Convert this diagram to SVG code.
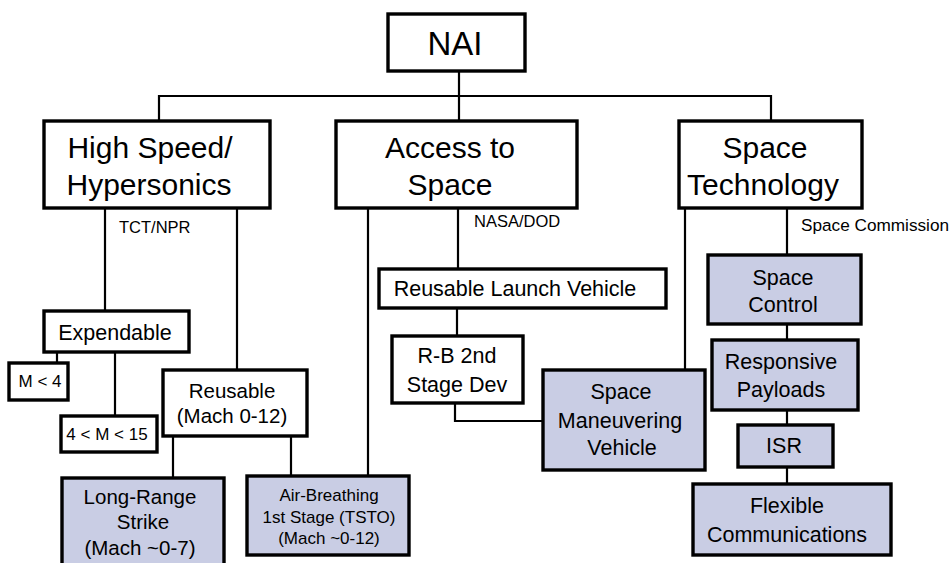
<svg xmlns="http://www.w3.org/2000/svg" width="951" height="563" viewBox="0 0 951 563">
<style>
.box{fill:#fff;stroke:#000;stroke-width:3.4}
.blue{fill:#c9cde4;stroke:#000;stroke-width:3.4}
.c{fill:none;stroke:#000;stroke-width:2.2}
text{font-family:"Liberation Sans",Arial,sans-serif;fill:#000;text-anchor:middle}
.big{font-size:30px}
.mid{font-size:21.5px}
.sm{font-size:20.5px}
.lab{font-size:16.5px;text-anchor:start}
.xs{font-size:17px}
</style>
<rect width="951" height="563" fill="#fff"/>
<g id="connectors">
<path class="c" d="M459,71V120M159,120V96H771V120"/>
<path class="c" d="M105,208V310M237,208V369M57,352V362M115,352V415M173,436V477M291,436V475"/>
<path class="c" d="M368,208V475M458,208V268M457,308V335M455,403V421H542"/>
<path class="c" d="M685,208V369M787,208V254M787,324V339M787,410V424M787,467V483"/>
</g>
<g id="nai"><rect class="box" x="388" y="14" width="137" height="57"/><text x="455" y="55" style="font-size:33px">NAI</text></g>
<g id="highspeed"><rect class="box" x="44" y="121" width="226" height="87"/><text class="big" x="150" y="158">High Speed/</text><text class="big" x="149" y="195">Hypersonics</text></g>
<g id="access"><rect class="box" x="336" y="121" width="241" height="87"/><text class="big" x="450" y="158">Access to</text><text class="big" x="450" y="195">Space</text></g>
<g id="spacetech"><rect class="box" x="679" y="121" width="183" height="87"/><text class="big" x="765" y="158">Space</text><text class="big" x="763" y="195">Technology</text></g>
<g id="labels"><text class="lab" x="119" y="233">TCT/NPR</text><text class="lab" x="474" y="227">NASA/DOD</text><text class="lab" x="801" y="231" style="font-size:17.2px">Space Commission</text></g>
<g id="expendable"><rect class="box" x="44" y="311" width="145" height="41"/><text class="mid" x="115" y="340">Expendable</text></g>
<g id="m4"><rect class="box" x="9" y="363" width="59" height="37"/><text class="xs" x="40" y="387">M &lt; 4</text></g>
<g id="m415"><rect class="box" x="61" y="416" width="96" height="36"/><text class="xs" x="107" y="440">4 &lt; M &lt; 15</text></g>
<g id="reusable"><rect class="box" x="163" y="370" width="144" height="66"/><text class="sm" x="232" y="398">Reusable</text><text class="sm" x="232" y="423">(Mach 0-12)</text></g>
<g id="lrs"><rect class="blue" x="62" y="478" width="162" height="100"/><text class="sm" x="140" y="504">Long-Range</text><text class="sm" x="143" y="529">Strike</text><text class="sm" x="140" y="555">(Mach ~0-7)</text></g>
<g id="airbreathing"><rect class="blue" x="247" y="476" width="162" height="79"/><text class="xs" x="329" y="501">Air-Breathing</text><text class="xs" x="329" y="523">1st Stage (TSTO)</text><text class="xs" x="329" y="544">(Mach ~0-12)</text></g>
<g id="rlv"><rect class="box" x="379" y="269" width="287" height="39"/><text class="mid" x="515" y="296">Reusable Launch Vehicle</text></g>
<g id="rb"><rect class="box" x="392" y="336" width="131" height="67"/><text class="mid" x="457" y="363">R-B 2nd</text><text class="mid" x="457" y="392">Stage Dev</text></g>
<g id="smv"><rect class="blue" x="543" y="370" width="162" height="100"/><text class="mid" x="621" y="399">Space</text><text class="mid" x="620" y="428">Maneuvering</text><text class="mid" x="622" y="455">Vehicle</text></g>
<g id="spacecontrol"><rect class="blue" x="708" y="255" width="153" height="69"/><text class="mid" x="783" y="285">Space</text><text class="mid" x="783" y="312">Control</text></g>
<g id="payloads"><rect class="blue" x="712" y="340" width="146" height="70"/><text class="mid" x="781" y="369">Responsive</text><text class="mid" x="781" y="397">Payloads</text></g>
<g id="isr"><rect class="blue" x="738" y="425" width="95" height="42"/><text class="mid" x="784" y="453">ISR</text></g>
<g id="flexcomm"><rect class="blue" x="693" y="484" width="198" height="71"/><text class="mid" x="787" y="513">Flexible</text><text class="mid" x="787" y="542">Communications</text></g>
</svg>
